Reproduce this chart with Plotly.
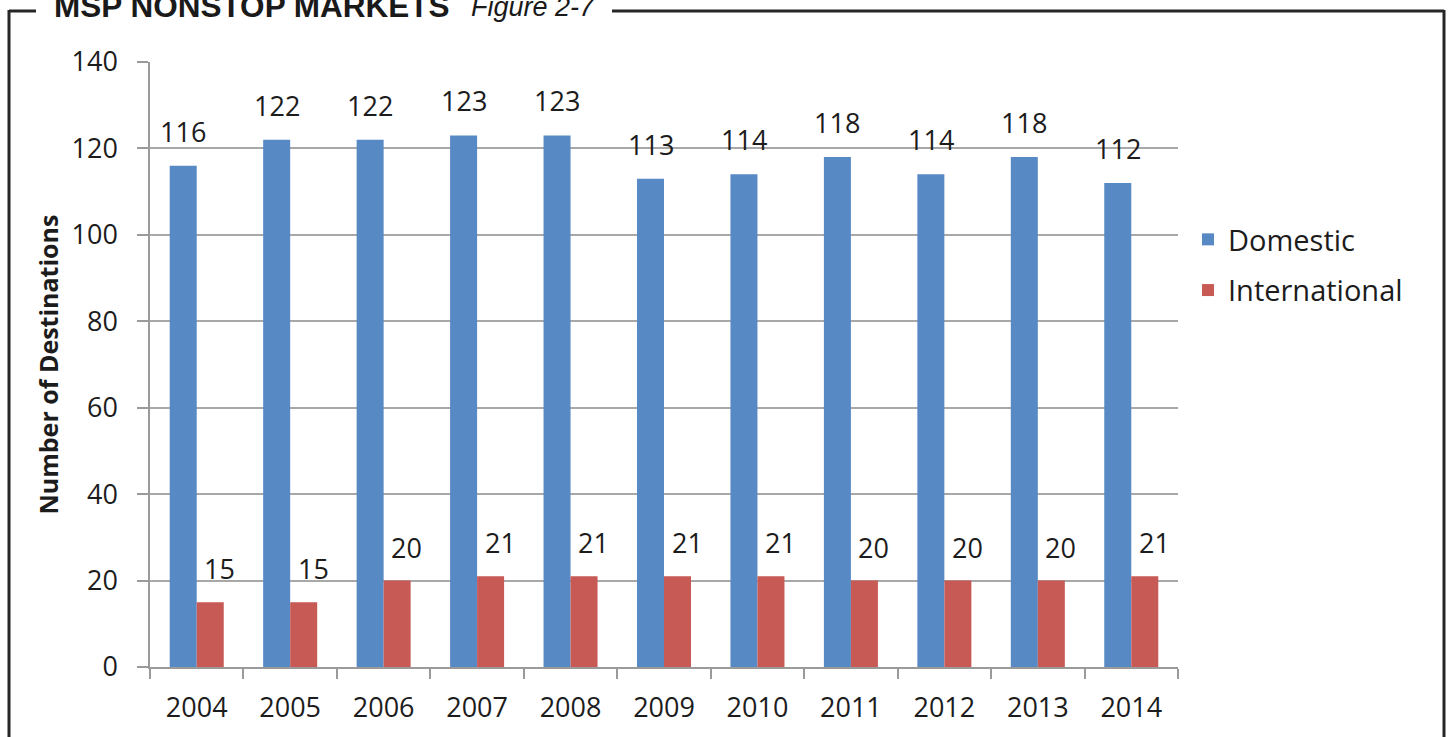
import plotly.graph_objects as go

years = ["2004", "2005", "2006", "2007", "2008", "2009", "2010", "2011", "2012", "2013", "2014"]
domestic = [116, 122, 122, 123, 123, 113, 114, 118, 114, 118, 112]
international = [15, 15, 20, 21, 21, 21, 21, 20, 20, 20, 21]
yticks = [0, 20, 40, 60, 80, 100, 120, 140]

W, H = 1450, 737
ML, MR, MT, MB = 150, 272, 62, 70
PW, PH = W - ML - MR, H - MT - MB


def px(x):
    return (x - ML) / PW


def py(y):
    return (H - MB - y) / PH


BLUE = "#5789C5"
RED = "#C85A56"
FONT = "Open Sans, Lato, sans-serif"
TXT = "#1c1c1c"

fig = go.Figure()
fig.add_trace(go.Bar(name="Domestic", x=years, y=domestic, marker=dict(color=BLUE, line=dict(width=0)),
                     legendgroup="d"))
fig.add_trace(go.Bar(name="International", x=years, y=international, marker=dict(color=RED, line=dict(width=0)),
                     legendgroup="i"))

annotations = []
# category axis positions are the index of each year
for i, v in enumerate(domestic):
    annotations.append(dict(x=i, y=v, xref="x", yref="y", text=str(v), showarrow=False,
                            xshift=-13.5, yshift=14, yanchor="bottom",
                            font=dict(family=FONT, size=27, color=TXT)))
for i, v in enumerate(international):
    annotations.append(dict(x=i, y=v, xref="x", yref="y", text=str(v), showarrow=False,
                            xshift=23, yshift=13, yanchor="bottom",
                            font=dict(family=FONT, size=27, color=TXT)))

# y-axis title
annotations.append(dict(x=px(47), y=0.5, xref="paper", yref="paper", text="<b>Number of Destinations</b>",
                        textangle=-90, showarrow=False, xanchor="center", yanchor="middle",
                        font=dict(family=FONT, size=25, color=TXT)))
# chart heading (partly cut by the page top)
annotations.append(dict(x=px(52), y=py(6), xref="paper", yref="paper", text="<b>MSP NONSTOP MARKETS</b>",
                        showarrow=False, xanchor="left", yanchor="middle",
                        font=dict(family="Liberation Sans, Arial, sans-serif", size=31.5, color="#1a1a1a")))
annotations.append(dict(x=px(469), y=py(7), xref="paper", yref="paper", text="<i>Figure 2-7</i>",
                        showarrow=False, xanchor="left", yanchor="middle",
                        font=dict(family="Liberation Sans, Arial, sans-serif", size=27, color="#1a1a1a")))

frame = dict(color="#262626", width=3)
shapes = [
    dict(type="line", xref="paper", yref="paper", x0=px(9), y0=py(11), x1=px(36), y1=py(11), line=frame),
    dict(type="line", xref="paper", yref="paper", x0=px(612), y0=py(11), x1=px(1444), y1=py(11), line=frame),
    dict(type="line", xref="paper", yref="paper", x0=px(9), y0=py(10), x1=px(9), y1=py(760), line=frame),
    dict(type="line", xref="paper", yref="paper", x0=px(1444), y0=py(10), x1=px(1444), y1=py(760), line=frame),
]

fig.update_layout(
    width=W, height=H,
    margin=dict(l=ML, r=MR, t=MT, b=MB, autoexpand=False),
    paper_bgcolor="white", plot_bgcolor="white",
    barmode="group", bargap=0.422, bargroupgap=0,
    font=dict(family=FONT, color=TXT),
    showlegend=True,
    legend=dict(x=px(1188), y=py(214), xanchor="left", yanchor="top",
                font=dict(family=FONT, size=29, color=TXT), tracegroupgap=10,
                bgcolor="rgba(0,0,0,0)"),
    annotations=annotations,
    shapes=shapes,
)
fig.update_xaxes(
    type="category", categoryorder="array", categoryarray=years,
    range=[-0.5, len(years) - 0.5],
    showline=True, linecolor="#9a9a9a", linewidth=1.5,
    ticks="outside", tickson="boundaries", ticklen=10, tickcolor="#9a9a9a", tickwidth=1.5,
    tickfont=dict(family=FONT, size=27, color=TXT), tickangle=0, ticklabelstandoff=16,
    showgrid=False,
)
fig.update_yaxes(
    range=[0, 140], tickvals=yticks, ticktext=[str(t) for t in yticks],
    showline=True, linecolor="#9a9a9a", linewidth=1.5,
    ticks="outside", ticklen=11, tickcolor="#9a9a9a", tickwidth=1.5,
    tickfont=dict(family=FONT, size=27, color=TXT), ticklabelstandoff=14,
    showgrid=True, gridcolor="#a8a8a8", gridwidth=1.5, zeroline=False,
)

fig.write_html("out.html", config={"displayModeBar": False},
               post_script="document.body.style.margin='0';")
